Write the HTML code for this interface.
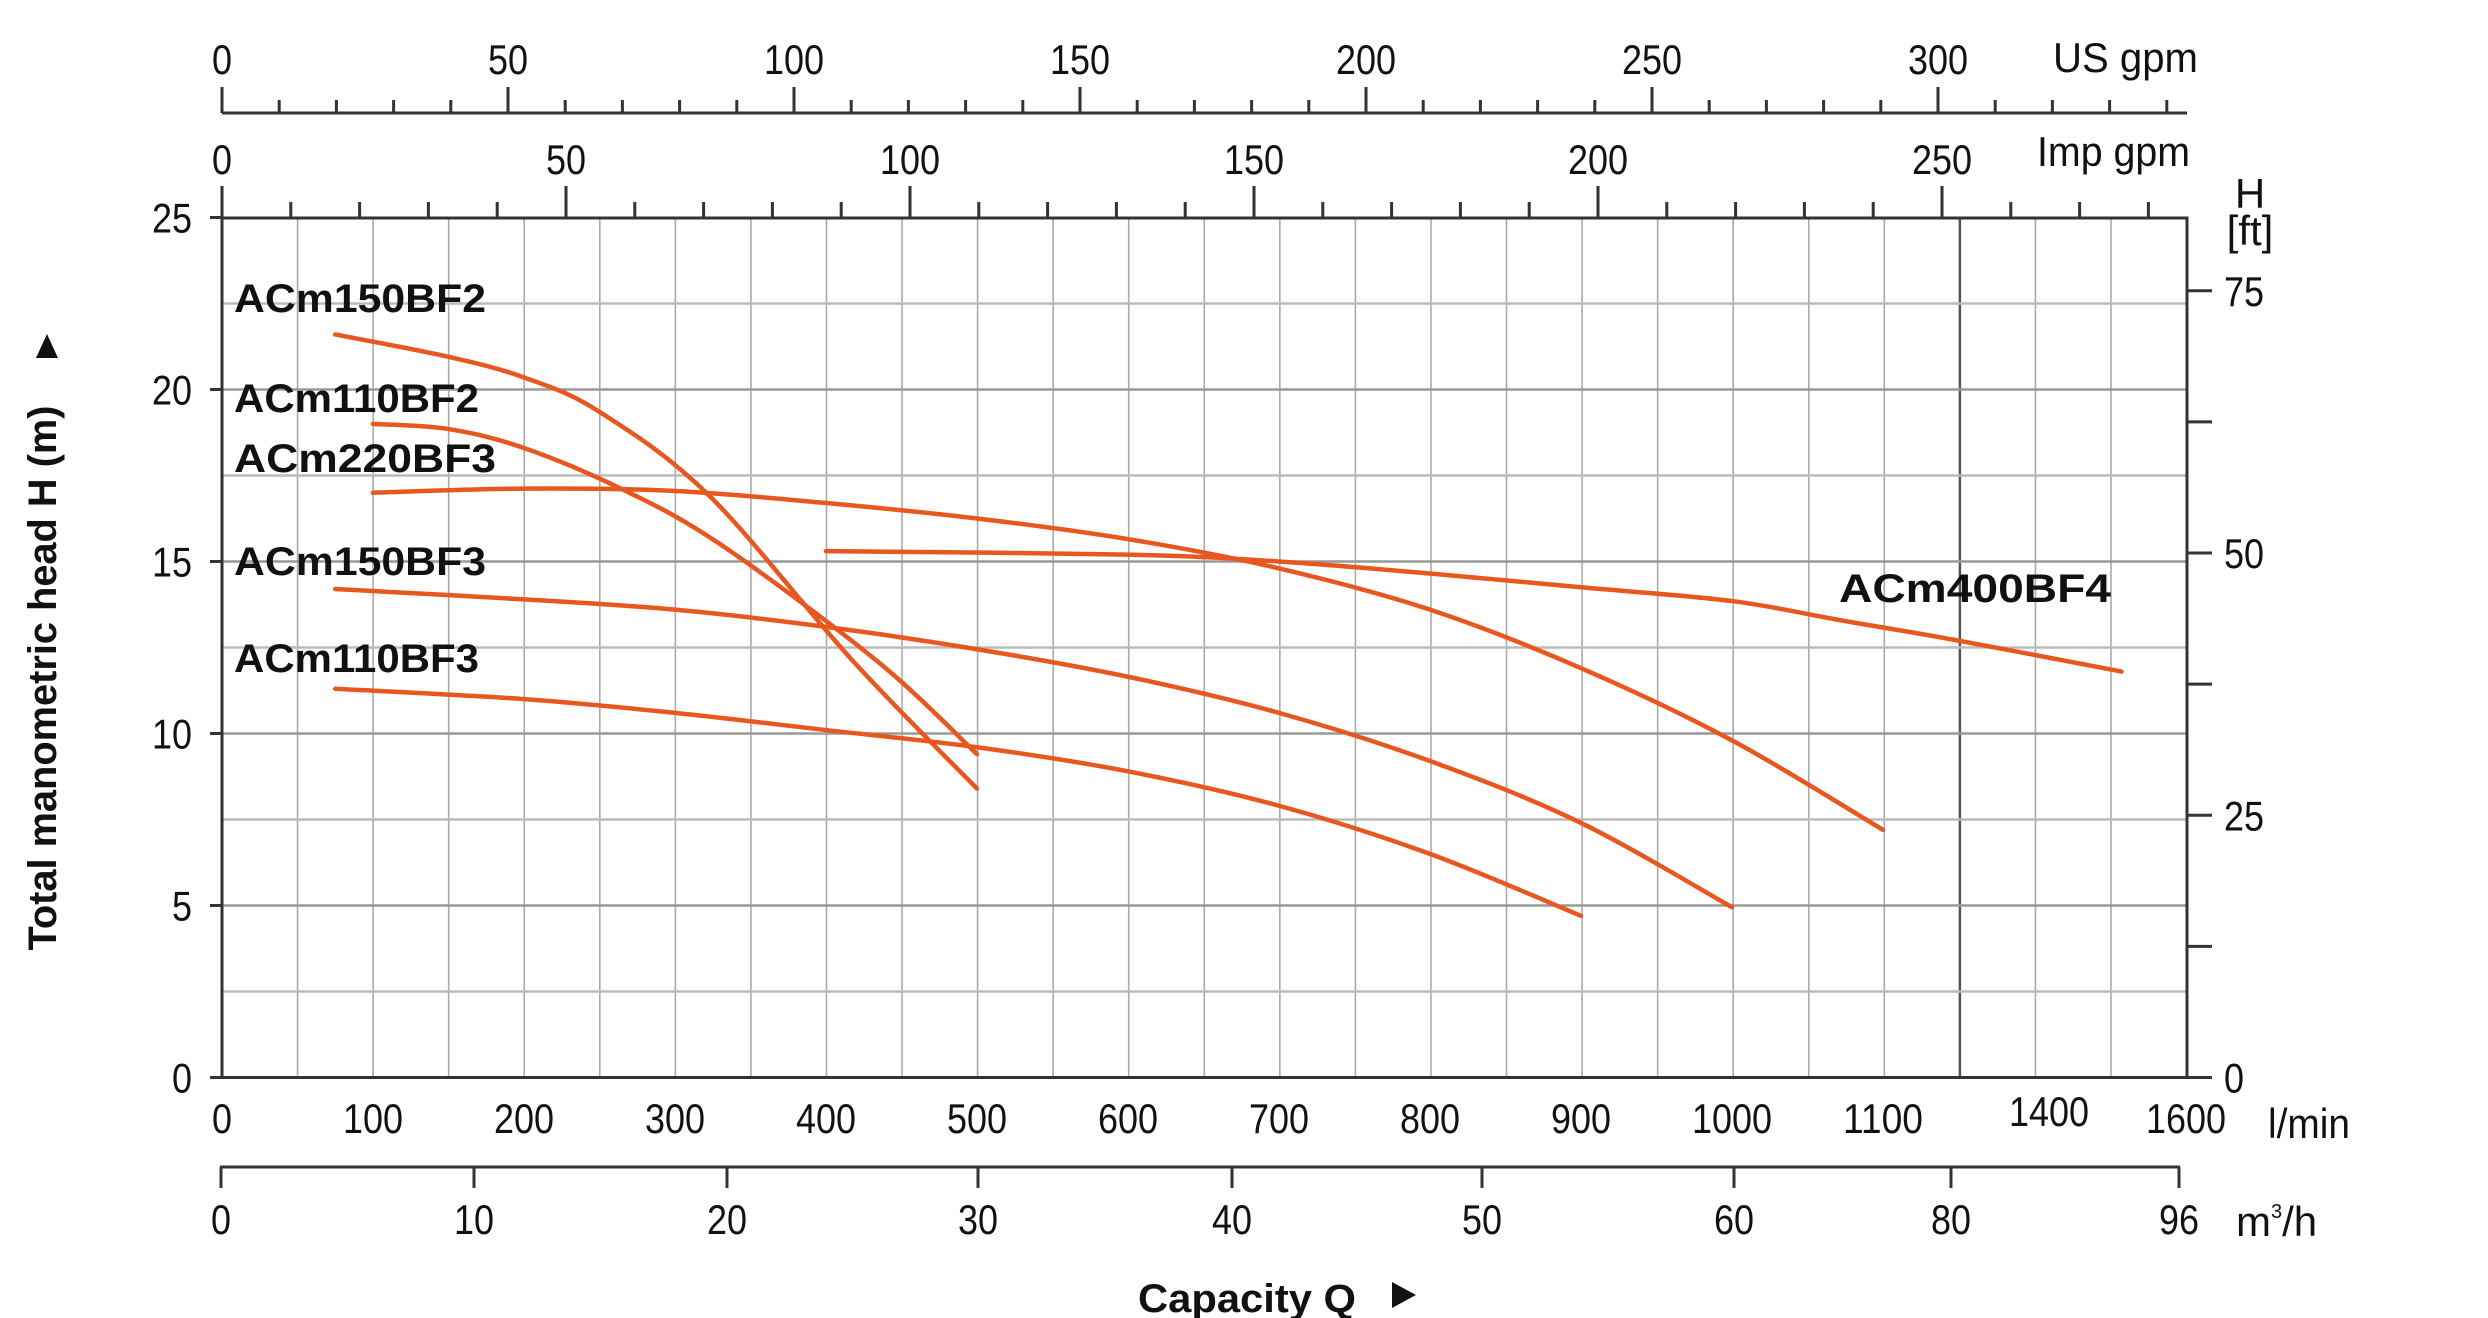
<!DOCTYPE html>
<html><head><meta charset="utf-8"><style>
html,body{margin:0;padding:0;background:#fff;}
svg{display:block;}
.n{font-family:"Liberation Sans Narrow","Liberation Sans",sans-serif;font-size:42px;fill:#111;}
.b{font-family:"Liberation Sans",sans-serif;font-weight:bold;font-size:40px;fill:#111;}
</style></head><body>
<svg id="s" width="2488" height="1318" viewBox="0 0 2488 1318" xmlns="http://www.w3.org/2000/svg">
<g id="grid"></g>
<g id="ax" stroke="#333" stroke-width="3" fill="none"></g>
<g id="curves" fill="none" stroke="#e8571f" stroke-width="4.5" stroke-linecap="round"></g>
<g id="txt"></g>
<text class="b" x="234" y="312" textLength="252" lengthAdjust="spacingAndGlyphs">ACm150BF2</text>
<text class="b" x="234" y="412" textLength="245" lengthAdjust="spacingAndGlyphs">ACm110BF2</text>
<text class="b" x="234" y="472" textLength="262" lengthAdjust="spacingAndGlyphs">ACm220BF3</text>
<text class="b" x="234" y="575" textLength="252" lengthAdjust="spacingAndGlyphs">ACm150BF3</text>
<text class="b" x="234" y="672" textLength="245" lengthAdjust="spacingAndGlyphs">ACm110BF3</text>
<text class="b" x="1839" y="602" textLength="272" lengthAdjust="spacingAndGlyphs">ACm400BF4</text>
<text class="b" transform="translate(56,678) rotate(-90)" text-anchor="middle" font-size="38" textLength="545" lengthAdjust="spacingAndGlyphs">Total manometric head H (m)</text>
<polygon points="36,358 58,358 47,334" fill="#111"/>
<text class="b" x="1138" y="1312" font-size="37" textLength="218" lengthAdjust="spacingAndGlyphs">Capacity Q</text>
<polygon points="1392,1282 1392,1308 1416,1295" fill="#111"/>
<text class="n" x="2053" y="72" textLength="145" lengthAdjust="spacingAndGlyphs">US gpm</text>
<text class="n" x="2037" y="166" textLength="153" lengthAdjust="spacingAndGlyphs">Imp gpm</text>
<text class="n" x="2250" y="208" text-anchor="middle" font-size="32">H</text>
<text class="n" x="2250" y="245" text-anchor="middle" font-size="32">[ft]</text>
<text class="n" x="2268" y="1138" textLength="82" lengthAdjust="spacingAndGlyphs">l/min</text>
<text class="n" x="2236" y="1236">m<tspan font-size="20" dy="-18">3</tspan><tspan dy="18">/h</tspan></text>
</svg>
<script>
const NS="http://www.w3.org/2000/svg";
function el(p,t,a,txt){const e=document.createElementNS(NS,t);for(const k in a)e.setAttribute(k,a[k]);if(txt!==undefined)e.textContent=txt;document.getElementById(p).appendChild(e);return e;}
function num(x,y,v,anchor){el('txt','text',{class:'n',x:x,y:y,'text-anchor':anchor||'middle',textLength:String(v).length*20,lengthAdjust:'spacingAndGlyphs'},v);}
const L=222,R=2187,T=218,B=1077.5;
const X=q=>L+1.51*q, Y=h=>B-h*34.4;
for(let i=1;i<26;i++){const x=L+i*75.56;el('grid','line',{x1:x,y1:T,x2:x,y2:B,stroke:(i==23)?'#555':'#aaa','stroke-width':(i==23)?2.5:1.6});}
for(let i=1;i<10;i++){const y=Y(i*2.5);el('grid','line',{x1:L,y1:y,x2:R,y2:y,stroke:i%2==0?'#999':'#bbb','stroke-width':2.5});}
el('ax','rect',{x:L,y:T,width:R-L,height:B-T});
for(let h=0;h<=25;h+=5){const y=Y(h);el('ax','line',{x1:210,y1:y,x2:L,y2:y});num(192,y+15,h,'end');}
for(let k=0;k<=6;k++){const y=B-12.5*k*10.49;el('ax','line',{x1:R,y1:y,x2:2212,y2:y});if(k%2==0)num(2224,y+15,12.5*k,'start');}
for(let q=0;q<=1100;q+=100)num(X(q),1133,q);
num(2049,1126,1400);num(2186,1133,1600);
el('ax','line',{x1:220,y1:1167,x2:2180,y2:1167});
[[0,221],[10,474],[20,727],[30,978],[40,1232],[50,1482],[60,1734],[80,1951],[96,2179]].forEach(([v,x])=>{el('ax','line',{x1:x,y1:1167,x2:x,y2:1188});num(x,1234,v);});
el('ax','line',{x1:L,y1:113,x2:R,y2:113});
for(let g=0;g<=340;g+=10){const x=L+g*5.72;const maj=g%50==0;el('ax','line',{x1:x,y1:maj?87:100,x2:x,y2:113});if(maj)num(x,74,g);}
for(let g=0;g<=280;g+=10){const x=L+g*6.88;if(x>R+2)break;const maj=g%50==0;el('ax','line',{x1:x,y1:maj?186:202,x2:x,y2:T});if(maj)num(x,174,g);}
const C=[
[[75,21.6],[150,20.95],[200,20.35],[250,19.35],[323,16.9],[418,12.1],[500,8.4]],
[[100,19.0],[150,18.85],[200,18.3],[265,17.1],[330,15.5],[434,12.1],[500,9.4]],
[[100,17.0],[200,17.12],[300,17.05],[400,16.7],[500,16.25],[600,15.65],[700,14.8],[800,13.6],[900,11.9],[1000,9.8],[1100,7.2]],
[[400,15.3],[600,15.2],[700,15.0],[800,14.65],[900,14.25],[1000,13.85],[1071,13.3],[1150,12.7],[1258,11.8]],
[[75,14.2],[200,13.9],[300,13.6],[400,13.1],[500,12.45],[600,11.65],[700,10.6],[800,9.2],[900,7.4],[1000,4.95]],
[[75,11.3],[200,11.0],[300,10.6],[400,10.1],[500,9.6],[600,8.9],[700,7.9],[800,6.5],[900,4.7]]];
C.forEach(c=>{const p=c.map(([q,h])=>[X(q),Y(h)]);let d='M'+p[0][0]+','+p[0][1];
for(let i=0;i<p.length-1;i++){const p0=p[i-1]||p[i],p1=p[i],p2=p[i+1],p3=p[i+2]||p2;
d+=` C${p1[0]+(p2[0]-p0[0])/6},${p1[1]+(p2[1]-p0[1])/6} ${p2[0]-(p3[0]-p1[0])/6},${p2[1]-(p3[1]-p1[1])/6} ${p2[0]},${p2[1]}`;}
el('curves','path',{d:d});});
</script>
</body></html>
